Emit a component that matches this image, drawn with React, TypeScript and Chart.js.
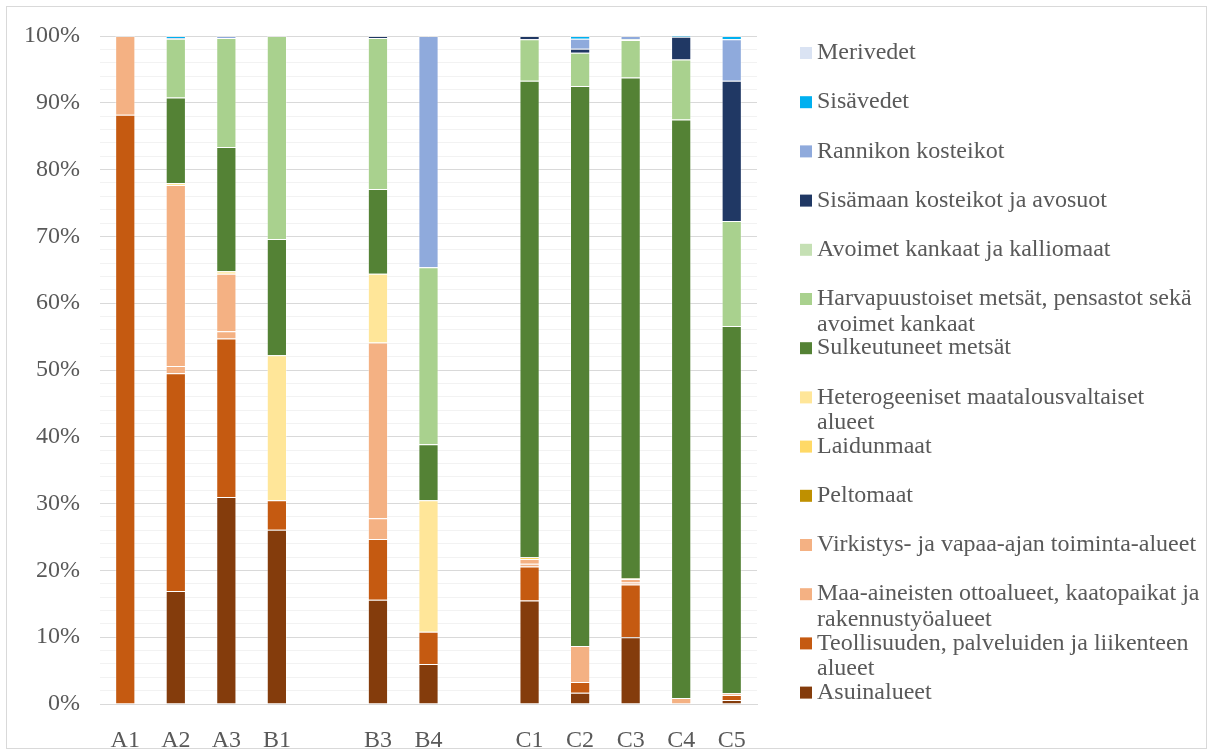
import React, { useEffect, useRef } from 'react';
import { Chart, registerables } from 'chart.js';

Chart.register(...registerables);

const categories = ['A1', 'A2', 'A3', 'B1', '', 'B3', 'B4', '', 'C1', 'C2', 'C3', 'C4', 'C5'];

const asuinalueet = [0, 16.9, 31.0, 26.1, null, 15.6, 6.0, null, 15.5, 1.7, 10.0, 0, 0.6];
const teollisuuden = [88.2, 32.6, 23.7, 4.4, null, 9.1, 4.8, null, 5.1, 1.6, 7.9, 0, 0.75];
const maaAineisten = [0, 1.1, 1.1, 0, null, 3.1, 0, null, 0.4, 5.4, 0.3, 0.9, 0.25];
const virkistys = [11.8, 27.1, 8.6, 0, null, 26.3, 0, null, 0.7, 0, 0.5, 0, 0];
const peltomaat = [0, 0, 0, 0, null, 0, 0, null, 0, 0, 0, 0, 0];
const laidunmaat = [0, 0, 0, 0, null, 0, 0, null, 0.3, 0, 0.1, 0, 0];
const heterogeeniset = [0, 0.3, 0.4, 21.7, null, 10.3, 19.7, null, 0, 0, 0, 0, 0];
const sulkeutuneet = [0, 12.8, 18.6, 17.4, null, 12.7, 8.4, null, 71.3, 83.8, 75.0, 86.6, 55.0];
const harvapuustoiset = [0, 8.8, 16.3, 30.4, null, 22.6, 26.5, null, 6.2, 5.0, 5.6, 9.0, 15.7];
const avoimet = [0, 0, 0, 0, null, 0, 0, null, 0, 0, 0.1, 0, 0];
const sisamaan = [0, 0, 0, 0, null, 0.3, 0, null, 0.5, 0.6, 0, 3.4, 21.0];
const rannikon = [0, 0.1, 0.3, 0, null, 0, 34.6, null, 0, 1.5, 0.5, 0, 6.2];
const sisavedet = [0, 0.3, 0, 0, null, 0, 0, null, 0, 0.4, 0, 0.1, 0.5];
const merivedet = [0, 0, 0, 0, null, 0, 0, null, 0, 0, 0, 0, 0];

const seriesNames = [
  'Asuinalueet',
  'Teollisuuden, palveluiden ja liikenteen alueet',
  'Maa-aineisten ottoalueet, kaatopaikat ja rakennustyöalueet',
  'Virkistys- ja vapaa-ajan toiminta-alueet',
  'Peltomaat',
  'Laidunmaat',
  'Heterogeeniset maatalousvaltaiset alueet',
  'Sulkeutuneet metsät',
  'Harvapuustoiset metsät, pensastot sekä avoimet kankaat',
  'Avoimet kankaat ja kalliomaat',
  'Sisämaan kosteikot ja avosuot',
  'Rannikon kosteikot',
  'Sisävedet',
  'Merivedet',
];
const seriesValues = [
  asuinalueet, teollisuuden, maaAineisten, virkistys, peltomaat, laidunmaat, heterogeeniset,
  sulkeutuneet, harvapuustoiset, avoimet, sisamaan, rannikon, sisavedet, merivedet,
];
const seriesColors = [
  '#843C0C', '#C55A11', '#F4B183', '#F4B183', '#BF9000', '#FFD966', '#FFE699',
  '#548235', '#A9D18E', '#C5E0B4', '#203864', '#8FAADC', '#00B0F0', '#DAE3F3',
];

const FONT = "'Liberation Serif', 'Times New Roman', serif";
const TEXT = '#595959';

const legendPlugin = {
  id: 'customLegend',
  afterDraw(chart: any) {
    const ctx = chart.ctx;
    ctx.save();
    // chart area border
    ctx.strokeStyle = '#D9D9D9';
    ctx.lineWidth = 1;
    ctx.strokeRect(6.5, 6.5, chart.width - 13, chart.height - 13);

    const ds = chart.data.datasets;
    ctx.font = `24px ${FONT}`;
    ctx.textBaseline = 'middle';
    ctx.textAlign = 'left';
    const boxX = 800;
    const textX = 817;
    const maxW = 384;
    for (let k = 0; k < ds.length; k++) {
      const d = ds[ds.length - 1 - k];
      const y = 52 + 49.2 * k;
      ctx.fillStyle = d.backgroundColor;
      ctx.fillRect(boxX, y - 5, 12, 12);
      const words = String(d.label).split(' ');
      const lines: string[] = [];
      let cur = '';
      for (const w of words) {
        const t = cur ? cur + ' ' + w : w;
        if (ctx.measureText(t).width > maxW && cur) {
          lines.push(cur);
          cur = w;
        } else cur = t;
      }
      if (cur) lines.push(cur);
      ctx.fillStyle = TEXT;
      lines.forEach((ln, i) => ctx.fillText(ln, textX, y + 1 + i * 25.5));
    }
    ctx.restore();
  },
};

export default function App() {
  const ref = useRef<HTMLCanvasElement>(null);
  useEffect(() => {
    document.body.style.margin = '0';
    const chart = new Chart(ref.current!, {
      type: 'bar',
      data: {
        labels: categories,
        datasets: seriesNames.map((name, i) => ({
          label: name,
          data: seriesValues[i],
          backgroundColor: seriesColors[i],
          borderColor: 'rgba(255,255,255,0.35)',
          borderWidth: 1,
          barPercentage: 1,
          categoryPercentage: 0.4,
        })),
      },
      options: {
        responsive: false,
        animation: false,
        layout: { padding: { top: 36, right: 456, bottom: 0, left: 0 } },
        plugins: { legend: { display: false }, tooltip: { enabled: false } },
        scales: {
          x: {
            stacked: true,
            grid: { display: false },
            border: { display: true, color: '#D9D9D9' },
            ticks: { color: TEXT, font: { family: FONT, size: 24 }, padding: 14, maxRotation: 0 },
            afterFit: (s: any) => { s.height = 51; },
          },
          y: {
            stacked: true,
            min: 0,
            max: 100,
            border: { display: false },
            grid: {
              drawTicks: false,
              color: (c: any) => (c.tick && Math.round(c.tick.value) % 10 === 0 ? '#D9D9D9' : '#F2F2F2'),
              lineWidth: 1,
            },
            ticks: {
              stepSize: 2,
              autoSkip: false,
              padding: 20,
              color: TEXT,
              font: { family: FONT, size: 24 },
              callback: (v: any) => (Math.round(v) % 10 === 0 ? `${Math.round(v)}%` : ''),
            },
            afterFit: (s: any) => { s.width = 100; },
          },
        },
      },
      plugins: [legendPlugin],
    });
    return () => chart.destroy();
  }, []);
  return (
    <div style={{ width: 1213, height: 755 }}>
      <canvas ref={ref} width={1213} height={755} />
    </div>
  );
}
